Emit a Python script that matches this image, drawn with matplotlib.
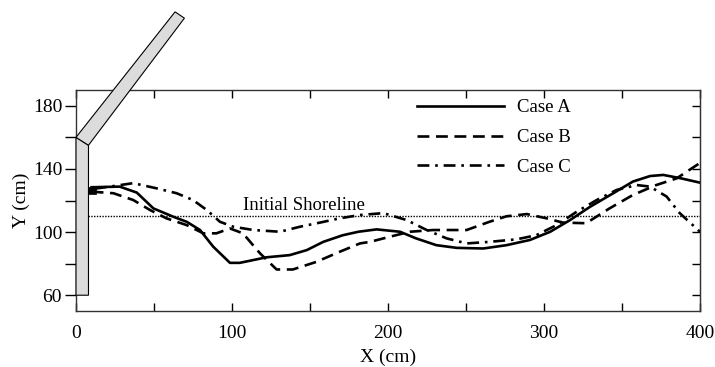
import matplotlib
matplotlib.use("Agg")
import matplotlib.pyplot as plt
from matplotlib.patches import Polygon

plt.rcParams['font.family'] = ['Liberation Serif', 'DejaVu Serif']

# Case A (solid)
xa = [10, 28, 39, 49.6, 62.4, 71, 79.5, 88, 98.7, 105, 122, 137, 148, 158.5, 171, 181,
      192.7, 207.7, 218, 231, 244, 261, 276, 291, 304, 316.7, 329.5, 344.4, 357, 368, 376.5, 388, 400]
ya = [128.4, 128.8, 125, 115, 109.7, 106.5, 101.3, 90.7, 80.5, 80.5, 84, 85.4, 88.6, 93.8, 98, 100.2,
      101.7, 100.2, 96, 91.7, 90, 89.6, 91.7, 95, 100.2, 107.6, 116, 124.6, 132, 135.5, 136.2, 134, 131.3]
# Case B (dashed)
xb = [10, 24, 36.7, 47.4, 58, 71, 81.6, 90, 98.7, 107, 118, 128.6, 139, 154, 169, 182,
      188.5, 201, 214, 229, 250.4, 265, 276, 289, 301.7, 312, 327, 342, 357, 372, 385, 400]
yb = [125.6, 124.6, 120.3, 114, 108.7, 104.4, 99.2, 99.2, 102.3, 99.2, 86.5, 76.3, 76.3, 81.1, 87.5, 92.8,
      93.8, 97, 100.2, 101.3, 101.3, 106.5, 110, 111.4, 108.7, 106, 105.6, 115, 123.5, 129.8, 134, 143.8]
# Case C (dash-dot)
xc = [12, 21.8, 36.7, 51.7, 64.5, 75, 83.8, 92.3, 100.8, 113.7, 130.8, 143.6, 156.4, 169, 182,
      197, 212, 224.8, 237.6, 250.4, 265, 282.5, 295, 308, 321, 333.8, 346.6, 359.4, 368, 378.6, 387, 400]
yc = [127.5, 128.8, 131, 127.7, 124.6, 120.3, 114, 106.5, 103.4, 101.3, 100.2, 103.4, 106, 108.7, 110.8,
      112, 107.6, 101.3, 96, 92.8, 93.8, 95.4, 98, 104.4, 112.9, 120.3, 126.7, 129.8, 128.8, 122.5, 112, 100.2]

shoreline_y = 110
xlim = (0, 400)
ylim = (50, 190)

fig = plt.figure(figsize=(7.15, 3.67), dpi=100)
ax = fig.add_axes([76/715, 1-311/367, 624/715, 221/367])

lw = 1.9
ax.plot(xa, ya, color='black', lw=lw, ls='-', label='Case A', solid_joinstyle='round')
ax.plot(xb, yb, color='black', lw=lw, ls=(0, (4.5, 2.5)), label='Case B')
ax.plot(xc, yc, color='black', lw=lw, ls=(0, (4.5, 2.2, 1, 2.2)), label='Case C')
ax.plot([8, 400], [shoreline_y, shoreline_y], color='black', lw=1.0, ls=(0, (1, 1)))
ax.text(107, 111.5, 'Initial Shoreline', fontsize=13.5, ha='left', va='bottom')

# small black block at start
ax.add_patch(Polygon([(8, 124), (13, 124), (13, 128.5), (8, 128.5)], closed=True,
                     facecolor='black', edgecolor='black', lw=0.5))

# structure
ax.add_patch(Polygon([(0, 60), (8, 60), (8, 155), (0, 160)], closed=True,
                     facecolor='#dcdcdc', edgecolor='black', lw=0.8, clip_on=False, zorder=3))
ax.add_patch(Polygon([(0, 160), (8, 155), (69.5, 235.5), (63.5, 239.5)], closed=True,
                     facecolor='#dcdcdc', edgecolor='black', lw=0.8, clip_on=False, zorder=3))

ax.set_xlim(*xlim)
ax.set_ylim(*ylim)
ax.set_xticks([0, 100, 200, 300, 400])
ax.set_xticks([50, 150, 250, 350], minor=True)
ax.set_yticks([60, 100, 140, 180])
ax.set_yticks([80, 120, 160], minor=True)
ax.tick_params(axis='x', which='both', direction='in', top=True, length=6, width=1, labelsize=14, pad=10)
ax.tick_params(axis='y', which='both', direction='out', length=8, width=1, labelsize=14, pad=2, right=False)

sec = ax.secondary_yaxis('right')
sec.set_yticks([60, 80, 100, 120, 140, 160, 180])
sec.tick_params(axis='y', direction='in', length=6, width=1, labelright=False)
sec.spines['right'].set_color('#333333')

ax.set_xlabel('X (cm)', fontsize=14, labelpad=5)
ax.set_ylabel('Y (cm)', fontsize=14, labelpad=2)
for s in ax.spines.values():
    s.set_linewidth(1.0)
    s.set_color('#333333')

ax.legend(loc='upper left', bbox_to_anchor=(0.52, 1.035), frameon=False, fontsize=13.5,
          handlelength=4.6, labelspacing=0.68, handletextpad=0.7)

fig.savefig('out.png', dpi=100)
